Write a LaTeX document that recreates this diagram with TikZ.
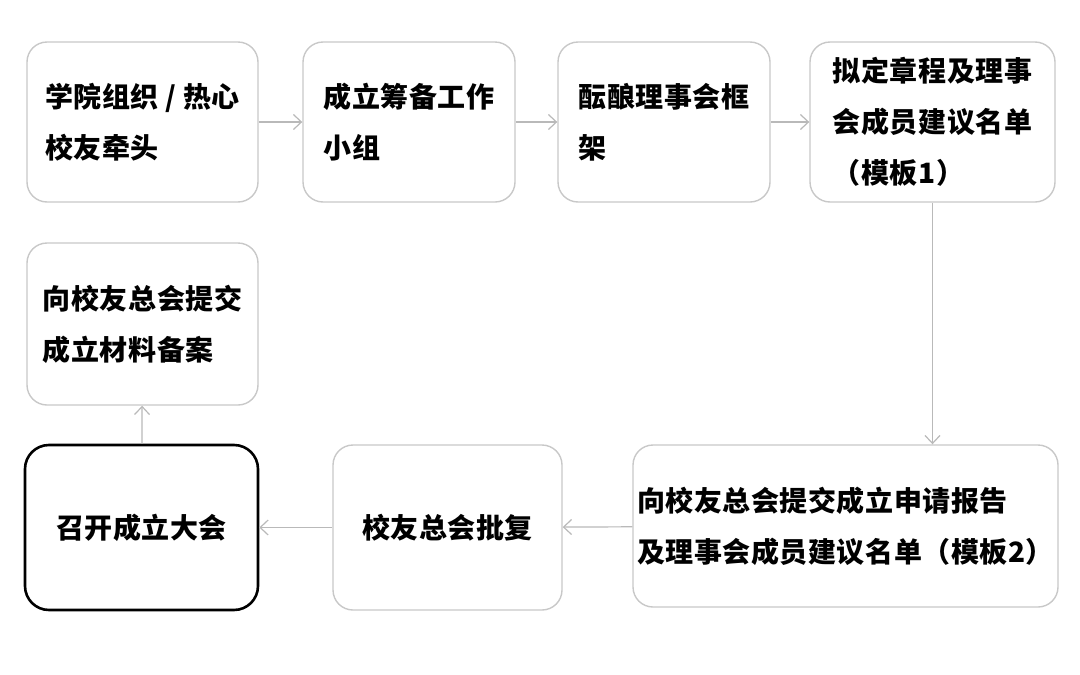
\documentclass[tikz,border=0pt]{standalone}
\usepackage{fontspec}
\usepackage{tikz}
\usetikzlibrary{arrows.meta}
\newfontfamily\cjk[LetterSpace=2]{Noto Sans CJK SC}
\definecolor{boxcol}{RGB}{200,200,200}
\definecolor{arrcol}{RGB}{185,185,185}

\begin{document}
\begin{tikzpicture}[x=1pt,y=-1pt,
  stage/.style={draw=boxcol,line width=1.4pt,rounded corners=20pt,inner sep=0pt,
    align=left,font=\cjk\bfseries\fontsize{28}{51}\selectfont},
  final/.style={stage,draw=black,line width=2.6pt,rounded corners=24pt},
  flow/.style={draw=arrcol,line width=1.2pt,-{Straight Barb[length=8pt,width=15pt]}}]
\useasboundingbox (0,0) rectangle (1080,675);
\node[stage,minimum width=231pt,minimum height=160pt] (zuzhi) at (142.5,122) {学院组织 / 热心\\校友牵头};
\node[stage,minimum width=212pt,minimum height=160pt] (choubei) at (409,122) {成立筹备工作\\小组};
\node[stage,minimum width=212pt,minimum height=160pt] (kuangjia) at (664,122) {酝酿理事会框\\架};
\node[stage,minimum width=245pt,minimum height=160pt] (zhangcheng) at (932.5,122) {拟定章程及理事\\会成员建议名单\\（模板1）};
\node[stage,minimum width=231pt,minimum height=162pt] (beian) at (142.5,324) {向校友总会提交\\成立材料备案};
\node[final,minimum width=233pt,minimum height=165pt] (dahui) at (141.5,527.5) {召开成立大会};
\node[stage,minimum width=229pt,minimum height=165pt] (pifu) at (447.5,527.5) {校友总会批复};
\node[stage,minimum width=425pt,minimum height=162pt] (shenqing) at (845.5,526) {向校友总会提交成立申请报告\\及理事会成员建议名单（模板2）};
\draw[flow] (zuzhi) -- (choubei);
\draw[flow] (choubei) -- (kuangjia);
\draw[flow] (kuangjia) -- (zhangcheng);
\draw[flow] (zhangcheng.south) -- (zhangcheng.south |- shenqing.north);
\draw[flow] (shenqing) -- (pifu);
\draw[flow] (pifu) -- (dahui);
\draw[flow] (dahui) -- (beian);
\end{tikzpicture}
\end{document}
